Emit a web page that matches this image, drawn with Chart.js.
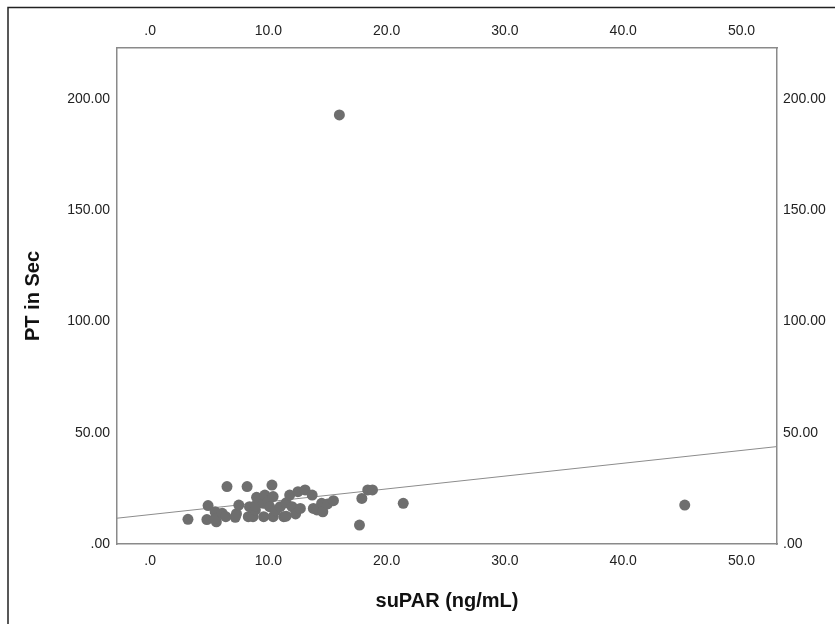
<!DOCTYPE html>
<html>
<head>
<meta charset="utf-8">
<script src="https://cdn.jsdelivr.net/npm/chart.js@4/dist/chart.umd.min.js"></script>
<style>
  html, body { margin: 0; padding: 0; background: #fff; }
  canvas { display: block; }
</style>
</head>
<body>
<canvas id="c" width="835" height="624"></canvas>
<script>
// ---- data ----
const suPAR = [3.2, 4.8, 4.9, 5.5, 5.6, 5.5, 6.1, 6.4, 6.5, 7.3, 7.5, 7.2, 8.2, 8.3, 8.4, 8.7, 8.9, 8.9,
  9.0, 9.6, 9.6, 9.7, 10.0, 10.1, 10.3, 10.4, 10.4, 10.6, 11.0, 11.3, 11.5, 11.5, 11.8, 12.0, 12.3,
  12.5, 12.7, 13.1, 13.7, 13.8, 14.1, 14.5, 14.6, 15.0, 15.5, 16.0, 17.7, 17.9, 18.4, 18.8, 21.4, 45.2];
const ptSec = [11.1, 11.0, 17.3, 14.5, 10.0, 11.5, 13.8, 12.3, 25.8, 13.6, 17.5, 12.0, 25.8, 12.3, 16.8, 12.3, 15.3, 17.2,
  21.0, 18.3, 12.3, 22.0, 19.5, 16.8, 26.5, 21.3, 12.3, 15.0, 16.8, 12.3, 12.5, 18.5, 22.0, 16.8, 13.5,
  23.5, 16.0, 24.3, 22.0, 16.0, 15.3, 18.3, 14.5, 18.0, 19.5, 192.9, 8.5, 20.5, 24.3, 24.3, 18.3, 17.5];
const fitX = [-2.8, 53.0];
const fitY = [11.6, 43.8];
const xTicks = [0, 10, 20, 30, 40, 50];
const yTicks = [0, 50, 100, 150, 200];
const xTitle = 'suPAR (ng/mL)';
const yTitle = 'PT in Sec';
const xMin = -2.8, xMax = 53.0, yMin = 0, yMax = 223;

const points = suPAR.map((v, i) => ({ x: v, y: ptSec[i] }));
const fitLine = fitX.map((v, i) => ({ x: v, y: fitY[i] }));

const fmtX = v => (v === 0 ? '.0' : v.toFixed(1));
const fmtY = v => (v === 0 ? '.00' : v.toFixed(2));

const AXIS_COLOR = '#8a8a8a';
const TICK_FONT = { family: 'Liberation Sans, Arial, sans-serif', size: 14 };
const TITLE_FONT = { family: 'Liberation Sans, Arial, sans-serif', size: 20, weight: 'bold' };

const frame = {
  id: 'frame',
  afterDraw(chart) {
    const ctx = chart.ctx;
    ctx.save();
    ctx.strokeStyle = '#222';
    ctx.lineWidth = 1.5;
    ctx.beginPath();
    ctx.moveTo(8, 624);
    ctx.lineTo(8, 7.5);
    ctx.lineTo(835, 7.5);
    ctx.stroke();
    ctx.restore();
  }
};

function fixTicks(arr) {
  return axis => { axis.ticks = arr.map(v => ({ value: v })); };
}

new Chart(document.getElementById('c'), {
  type: 'scatter',
  data: {
    datasets: [
      {
        label: 'fit',
        type: 'line',
        data: fitLine,
        borderColor: '#8c8c8c',
        borderWidth: 1,
        pointRadius: 0,
        fill: false,
        xAxisID: 'x',
        yAxisID: 'y',
        order: 2
      },
      {
        label: 'points',
        data: points,
        backgroundColor: '#6e6e6e',
        borderColor: '#6e6e6e',
        borderWidth: 0,
        pointRadius: 5.5,
        xAxisID: 'x',
        yAxisID: 'y',
        order: 1
      }
    ]
  },
  options: {
    responsive: false,
    animation: false,
    layout: { padding: 0 },
    plugins: { legend: { display: false }, tooltip: { enabled: false } },
    scales: {
      x: {
        type: 'linear', position: 'bottom', min: xMin, max: xMax,
        afterBuildTicks: fixTicks(xTicks),
        afterFit: a => { a.height = 80; },
        grid: { display: false, drawTicks: false },
        border: { display: true, color: AXIS_COLOR, width: 1.5 },
        ticks: { callback: fmtX, font: TICK_FONT, color: '#222', padding: 9, maxRotation: 0, autoSkip: false },
        title: { display: true, text: xTitle, font: TITLE_FONT, color: '#111', padding: { top: 0, bottom: 11 } }
      },
      x2: {
        type: 'linear', position: 'top', min: xMin, max: xMax,
        afterBuildTicks: fixTicks(xTicks),
        afterFit: a => { a.height = 48; },
        grid: { display: false, drawTicks: false },
        border: { display: true, color: AXIS_COLOR, width: 1.5 },
        ticks: { callback: fmtX, font: TICK_FONT, color: '#222', padding: 8, maxRotation: 0, autoSkip: false }
      },
      y: {
        type: 'linear', position: 'left', min: yMin, max: yMax,
        afterBuildTicks: fixTicks(yTicks),
        afterFit: a => { a.width = 117; },
        grid: { display: false, drawTicks: false },
        border: { display: true, color: AXIS_COLOR, width: 1.5 },
        ticks: { callback: fmtY, font: TICK_FONT, color: '#222', padding: 7, autoSkip: false },
        title: { display: true, text: yTitle, font: TITLE_FONT, color: '#111', padding: { top: 21, bottom: 0 } }
      },
      y2: {
        type: 'linear', position: 'right', min: yMin, max: yMax,
        afterBuildTicks: fixTicks(yTicks),
        afterFit: a => { a.width = 58; },
        grid: { display: false, drawTicks: false },
        border: { display: true, color: AXIS_COLOR, width: 1.5 },
        ticks: { callback: fmtY, font: TICK_FONT, color: '#222', padding: 6, autoSkip: false }
      }
    }
  },
  plugins: [frame]
});
</script>
</body>
</html>
